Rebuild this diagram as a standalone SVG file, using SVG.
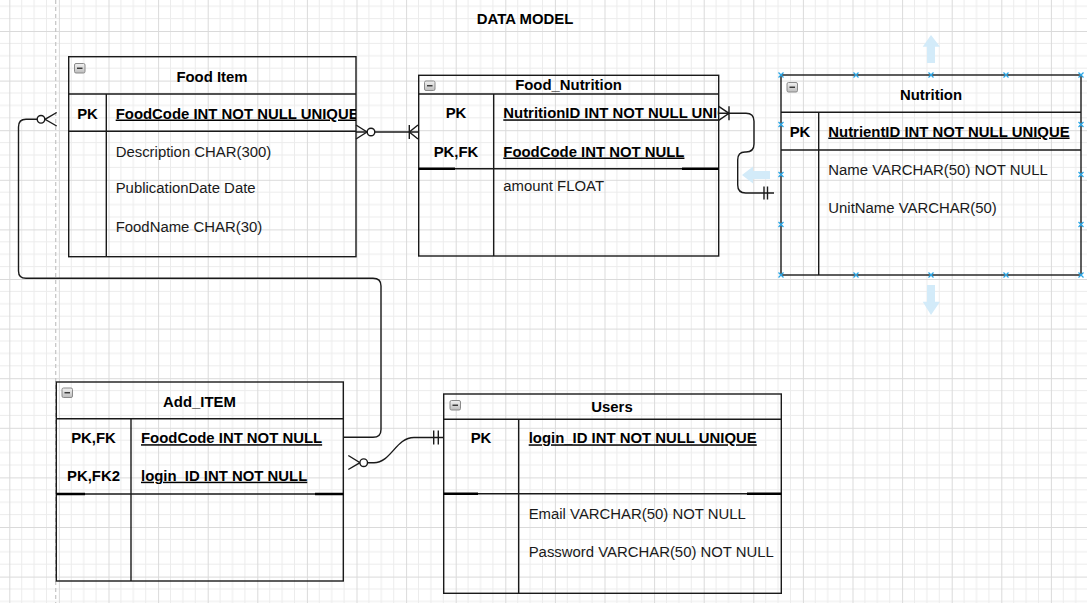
<svg xmlns="http://www.w3.org/2000/svg" xmlns:xlink="http://www.w3.org/1999/xlink" width="1087" height="603" viewBox="0 0 1087 603">
<style>
  .box{fill:none;stroke:#1a1a1a;stroke-width:1.4}
  .sep{stroke:#1a1a1a;stroke-width:1.4;fill:none}
  .thick{stroke:#000;stroke-width:2.4}
  .title{font-family:"Liberation Sans",Arial,sans-serif;font-size:14.9px;font-weight:bold;fill:#000;text-anchor:middle}
  .key{font-family:"Liberation Sans",Arial,sans-serif;font-size:14.9px;font-weight:bold;fill:#000;text-anchor:middle}
  .pk{font-family:"Liberation Sans",Arial,sans-serif;font-size:14.9px;font-weight:bold;fill:#000;text-decoration:underline}
  .fld{font-family:"Liberation Sans",Arial,sans-serif;font-size:14.9px;fill:#1a1a1a}
  .conn{fill:none;stroke:#1a1a1a;stroke-width:1.4}
  .mark{fill:none;stroke:#1a1a1a;stroke-width:1.4}
  .circ{fill:#fff;stroke:#1a1a1a;stroke-width:1.4}
  .hdl{stroke:#29a6e6;stroke-width:1.2}
  .arr{fill:#d3ebf9}
</style>
<defs>
  <pattern id="grid" width="49.6" height="49.6" patternUnits="userSpaceOnUse" x="9.3" y="31">
    <path d="M12.4 0V49.6M24.8 0V49.6M37.2 0V49.6M0 12.4H49.6M0 24.8H49.6M0 37.2H49.6" stroke="#ececec" stroke-width="1" fill="none"/>
    <path d="M0.5 0V49.6M0 0.5H49.6" stroke="#dadada" stroke-width="1" fill="none"/>
  </pattern>
  <linearGradient id="cg" x1="0" y1="0" x2="0" y2="1">
    <stop offset="0" stop-color="#f2f2f2"/>
    <stop offset="1" stop-color="#bdbdbd"/>
  </linearGradient>
  <g id="collapse">
    <rect x="0" y="0" width="10.5" height="9.5" rx="1.5" fill="url(#cg)" stroke="#8a8a8a" stroke-width="1"/>
    <path d="M2.5 4.75H8" stroke="#333" stroke-width="1.4"/>
  </g>
  <g id="hx">
    <path d="M-2.5 -2.5L2.5 2.5M-2.5 2.5L2.5 -2.5" class="hdl"/>
  </g>
  <clipPath id="clipFI"><rect x="106" y="94" width="250" height="37"/></clipPath>
  <clipPath id="clipFN"><rect x="493" y="94" width="225" height="37"/></clipPath>
</defs>

<rect width="1087" height="603" fill="#fff"/>
<rect width="1087" height="603" fill="url(#grid)"/>
<path d="M55.7 0V603" stroke="#c4c4c4" stroke-width="1.2" stroke-dasharray="4 3"/>

<text x="525" y="24" class="title">DATA MODEL</text>

<!-- Food Item -->
<g id="food-item">
  <rect x="68.7" y="56.7" width="287.3" height="200" class="box"/>
  <path d="M68.7 94H356M68.7 131.3H356M106.3 94V256.7" class="sep"/>
  <use xlink:href="#collapse" x="74.5" y="63.5"/>
  <text x="212" y="81.5" class="title">Food Item</text>
  <text x="87.5" y="118.5" class="key">PK</text>
  <text x="115.7" y="118.5" class="pk" clip-path="url(#clipFI)">FoodCode INT NOT NULL UNIQUE</text>
  <text x="115.7" y="156.5" class="fld">Description CHAR(300)</text>
  <text x="115.7" y="193.3" class="fld">PublicationDate Date</text>
  <text x="115.7" y="231.5" class="fld">FoodName CHAR(30)</text>
</g>

<!-- Food_Nutrition -->
<g id="food-nutrition">
  <rect x="418.7" y="75.3" width="300" height="180.7" class="box"/>
  <path d="M418.7 94H718.7M418.7 168.7H718.7M493.7 94V256" class="sep"/>
  <path d="M418.7 168.7H455M682 168.7H718.7" class="thick"/>
  <use xlink:href="#collapse" x="424.5" y="81"/>
  <text x="568.5" y="89.5" class="title">Food_Nutrition</text>
  <text x="456" y="118.3" class="key">PK</text>
  <text x="503.3" y="118.3" class="pk" clip-path="url(#clipFN)">NutritionID INT NOT NULL UNIQUE</text>
  <text x="456" y="156.5" class="key">PK,FK</text>
  <text x="503.3" y="156.5" class="pk">FoodCode INT NOT NULL</text>
  <text x="503.3" y="190.5" class="fld">amount FLOAT</text>
</g>

<!-- Nutrition -->
<g id="nutrition">
  <rect x="781" y="75" width="300" height="200" class="box"/>
  <path d="M781 112.3H1081M781 150H1081M818.7 112.3V275" class="sep"/>
  <use xlink:href="#collapse" x="787" y="82.5"/>
  <text x="931" y="100" class="title">Nutrition</text>
  <text x="800" y="136.5" class="key">PK</text>
  <text x="828.3" y="136.5" class="pk">NutrientID INT NOT NULL UNIQUE</text>
  <text x="828.3" y="175.2" class="fld">Name VARCHAR(50) NOT NULL</text>
  <text x="828.3" y="212.5" class="fld">UnitName VARCHAR(50)</text>
</g>

<!-- Add_ITEM -->
<g id="add-item">
  <rect x="56.3" y="382" width="287" height="199" class="box"/>
  <path d="M56.3 418.7H343.3M56.3 494H343.3M131 418.7V581" class="sep"/>
  <path d="M56.3 494H85M315 494H343.3" class="thick"/>
  <use xlink:href="#collapse" x="62" y="388"/>
  <text x="199.5" y="406.5" class="title">Add_ITEM</text>
  <text x="93.5" y="443.2" class="key">PK,FK</text>
  <text x="141" y="443.2" class="pk">FoodCode INT NOT NULL</text>
  <text x="93.5" y="480.7" class="key">PK,FK2</text>
  <text x="141" y="480.7" class="pk">login_ID INT NOT NULL</text>
</g>

<!-- Users -->
<g id="users">
  <rect x="443.7" y="394" width="337.6" height="199.3" class="box"/>
  <path d="M443.7 419.3H781.3M443.7 493.7H781.3M518.7 419.3V593.3" class="sep"/>
  <path d="M443.7 493.7H478M747 493.7H781.3" class="thick"/>
  <use xlink:href="#collapse" x="450" y="400.5"/>
  <text x="612" y="412" class="title">Users</text>
  <text x="481" y="443.3" class="key">PK</text>
  <text x="528.7" y="443.3" class="pk">login_ID INT NOT NULL UNIQUE</text>
  <text x="528.7" y="518.5" class="fld">Email VARCHAR(50) NOT NULL</text>
  <text x="528.7" y="556.5" class="fld">Password VARCHAR(50) NOT NULL</text>
</g>

<!-- Connectors -->
<g id="connectors">
  <!-- Food Item -> Food_Nutrition -->
  <path d="M356 132H418" class="conn"/>
  <path d="M356 125L367 132L356 139" class="mark"/>
  <circle cx="371" cy="132" r="3.8" class="circ"/>
  <path d="M409.3 125V139M418 125L409.3 132L418 139" class="mark"/>

  <!-- Food_Nutrition -> Nutrition -->
  <path d="M718.7 113.3H746Q754 113.3 754 121.3V144Q754 152 746 152H745Q737.7 152 737.7 160V185Q737.7 193 745.7 193H774" class="conn"/>
  <path d="M718.7 106.3L729 113.3L718.7 120.3M729 106.3V120.3" class="mark"/>
  <path d="M764 186.5V199.5M767.5 186.5V199.5" class="mark"/>

  <!-- Food Item -> Add_ITEM -->
  <path d="M37.2 119.3H26Q18.5 119.3 18.5 127V271Q18.5 278.3 26 278.3H373Q381 278.3 381 286V429.5Q381 437.3 373 437.3H343.3" class="conn"/>
  <path d="M56.7 112.5L45 119.3L56.7 126" class="mark"/>
  <circle cx="41" cy="119.3" r="3.8" class="circ"/>

  <!-- Add_ITEM -> Users -->
  <path d="M367.5 462.7H374C391 462.7 396 437.5 414 437.5H443.7" class="conn"/>
  <path d="M348.3 455.5L360 462.7L348.3 469.5" class="mark"/>
  <circle cx="363.7" cy="462.7" r="3.8" class="circ"/>
  <path d="M433.7 430.5V444.5M438.3 430.5V444.5" class="mark"/>
</g>

<!-- selection handles on Nutrition -->
<g id="selection">
  <path d="M931 35L940 46.7H935V63H927V46.7H922.7Z" class="arr"/>
  <path d="M931 315L940 301.7H935V285H927V301.7H922.7Z" class="arr"/>
  <path d="M742 175L753 166.5V171H770V179H753V183.5Z" class="arr"/>
  <use xlink:href="#hx" x="781" y="75"/>
  <use xlink:href="#hx" x="856" y="75"/>
  <use xlink:href="#hx" x="931" y="75"/>
  <use xlink:href="#hx" x="1006" y="75"/>
  <use xlink:href="#hx" x="1081" y="75"/>
  <use xlink:href="#hx" x="781" y="275"/>
  <use xlink:href="#hx" x="856" y="275"/>
  <use xlink:href="#hx" x="931" y="275"/>
  <use xlink:href="#hx" x="1006" y="275"/>
  <use xlink:href="#hx" x="1081" y="275"/>
  <use xlink:href="#hx" x="781" y="124.5"/>
  <use xlink:href="#hx" x="781" y="174.5"/>
  <use xlink:href="#hx" x="781" y="224.5"/>
  <use xlink:href="#hx" x="1081" y="124.5"/>
  <use xlink:href="#hx" x="1081" y="174.5"/>
  <use xlink:href="#hx" x="1081" y="224.5"/>
</g>
</svg>
